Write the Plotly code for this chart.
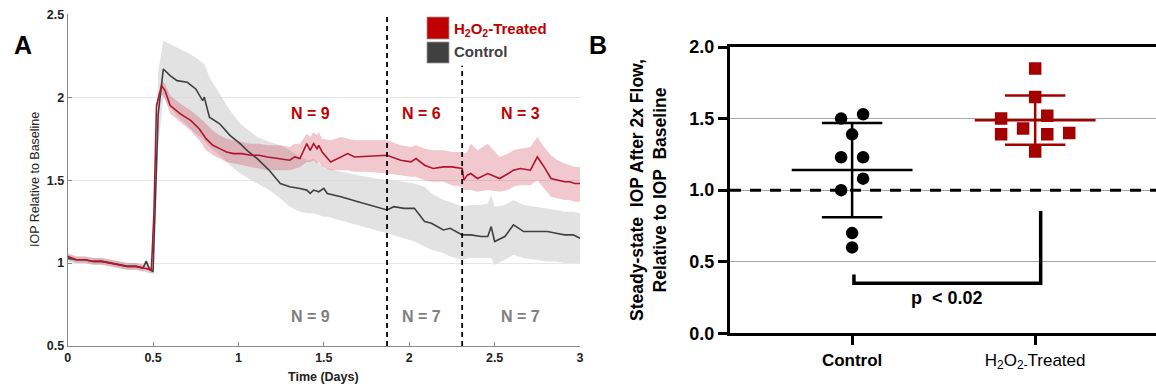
import numpy as np
import plotly.graph_objects as go

W, H = 1156, 391
FONT = "Liberation Sans, Arial, sans-serif"

# ---------------- Panel A data ----------------
ctrl_t = [0, 0.05, 0.1, 0.15, 0.2, 0.25, 0.3, 0.35, 0.4, 0.44, 0.46, 0.48, 0.50, 0.53, 0.56, 0.60, 0.64,
          0.70, 0.75, 0.79, 0.80, 0.83, 0.89, 0.95, 1.01, 1.06, 1.11, 1.18, 1.245, 1.30, 1.36, 1.40, 1.42,
          1.44, 1.47, 1.50, 1.52, 1.60, 1.70, 1.80, 1.87, 1.91, 1.97, 2.03, 2.09, 2.13, 2.20, 2.24, 2.31,
          2.36, 2.42, 2.46, 2.48, 2.50, 2.56, 2.61, 2.67, 2.74, 2.81, 2.86, 2.91, 2.96, 3.0]
ctrl_mean = [1.03, 1.02, 1.02, 1.01, 1.01, 1.00, 0.99, 0.98, 0.98, 0.97, 1.01, 0.96, 0.95, 1.90, 2.17, 2.13, 2.10,
             2.09, 2.05, 1.98, 2.00, 1.88, 1.84, 1.77, 1.72, 1.67, 1.63, 1.56, 1.48, 1.46, 1.45, 1.44, 1.42,
             1.44, 1.43, 1.45, 1.42, 1.40, 1.37, 1.34, 1.32, 1.34, 1.33, 1.33, 1.25, 1.24, 1.20, 1.21, 1.17,
             1.17, 1.16, 1.16, 1.22, 1.13, 1.16, 1.23, 1.19, 1.19, 1.19, 1.18, 1.17, 1.17, 1.15]
ctrl_hi = [1.05, 1.04, 1.04, 1.03, 1.03, 1.02, 1.01, 1.00, 1.00, 0.99, 1.03, 0.98, 0.97, 2.15, 2.34, 2.32, 2.30,
           2.27, 2.24, 2.21, 2.20, 2.12, 2.02, 1.92, 1.84, 1.80, 1.76, 1.73, 1.71, 1.68, 1.64, 1.62, 1.62,
           1.63, 1.60, 1.57, 1.57, 1.55, 1.53, 1.51, 1.50, 1.50, 1.49, 1.48, 1.46, 1.42, 1.38, 1.37, 1.34,
           1.35, 1.35, 1.36, 1.41, 1.34, 1.35, 1.38, 1.35, 1.34, 1.33, 1.32, 1.31, 1.31, 1.30]
ctrl_lo = [1.01, 1.00, 1.00, 0.99, 0.99, 0.98, 0.97, 0.96, 0.96, 0.95, 0.99, 0.94, 0.93, 1.70, 2.00, 1.94, 1.89,
           1.83, 1.78, 1.75, 1.74, 1.70, 1.65, 1.59, 1.54, 1.51, 1.48, 1.44, 1.39, 1.34, 1.31, 1.30, 1.30,
           1.30, 1.29, 1.28, 1.28, 1.26, 1.23, 1.20, 1.18, 1.17, 1.15, 1.13, 1.10, 1.08, 1.06, 1.04, 1.02,
           1.03, 1.03, 1.03, 1.03, 0.99, 1.02, 1.05, 1.03, 1.02, 1.01, 1.01, 1.00, 1.00, 1.00]

trt_t = [0, 0.05, 0.1, 0.15, 0.2, 0.25, 0.3, 0.35, 0.4, 0.44, 0.48, 0.49, 0.505, 0.52, 0.55, 0.57, 0.60,
         0.66, 0.72, 0.77, 0.81, 0.85, 0.89, 0.93, 0.97, 1.02, 1.07, 1.12, 1.17, 1.25, 1.30, 1.33, 1.36,
         1.40, 1.42, 1.44, 1.46, 1.47, 1.49, 1.54, 1.60, 1.64, 1.68, 1.75, 1.87, 1.95, 2.01, 2.04, 2.09,
         2.14, 2.20, 2.25, 2.31, 2.32, 2.34, 2.36, 2.40, 2.46, 2.53, 2.58, 2.61, 2.65, 2.71, 2.75, 2.79,
         2.83, 2.87, 2.91, 2.94, 2.97, 3.0]
trt_mean = [1.04, 1.02, 1.02, 1.01, 1.01, 1.00, 0.99, 0.98, 0.98, 0.97, 0.96, 0.96, 1.30, 1.95, 2.07, 2.04, 1.95,
            1.90, 1.86, 1.81, 1.75, 1.71, 1.69, 1.67, 1.66, 1.66, 1.65, 1.65, 1.64, 1.63, 1.62, 1.64, 1.63,
            1.72, 1.68, 1.72, 1.69, 1.71, 1.67, 1.61, 1.64, 1.66, 1.64, 1.645, 1.65, 1.62, 1.61, 1.63, 1.59,
            1.57, 1.58, 1.58, 1.57, 1.50, 1.53, 1.54, 1.51, 1.54, 1.51, 1.54, 1.56, 1.57, 1.56, 1.64, 1.58,
            1.51, 1.50, 1.49, 1.49, 1.48, 1.48]
trt_hi = [1.06, 1.04, 1.04, 1.03, 1.03, 1.02, 1.01, 1.00, 1.00, 0.99, 0.98, 0.98, 1.32, 1.98, 2.10, 2.08, 2.01,
          1.96, 1.92, 1.88, 1.84, 1.80, 1.77, 1.75, 1.74, 1.73, 1.72, 1.72, 1.71, 1.71, 1.70, 1.72, 1.72,
          1.78, 1.76, 1.79, 1.77, 1.79, 1.75, 1.74, 1.76, 1.75, 1.74, 1.74, 1.74, 1.71, 1.70, 1.71, 1.69,
          1.68, 1.68, 1.67, 1.67, 1.66, 1.67, 1.72, 1.68, 1.72, 1.64, 1.66, 1.68, 1.69, 1.70, 1.76, 1.70,
          1.65, 1.62, 1.60, 1.59, 1.58, 1.58]
trt_lo = [1.02, 1.00, 1.00, 0.99, 0.99, 0.98, 0.97, 0.96, 0.96, 0.95, 0.94, 0.94, 1.28, 1.92, 2.02, 1.99, 1.90,
          1.85, 1.80, 1.74, 1.68, 1.65, 1.63, 1.61, 1.60, 1.59, 1.58, 1.57, 1.56, 1.56, 1.56, 1.57, 1.58,
          1.61, 1.61, 1.62, 1.60, 1.61, 1.58, 1.56, 1.56, 1.56, 1.55, 1.55, 1.54, 1.53, 1.52, 1.52, 1.50,
          1.49, 1.49, 1.47, 1.46, 1.44, 1.44, 1.44, 1.43, 1.44, 1.43, 1.44, 1.46, 1.47, 1.47, 1.50, 1.45,
          1.40, 1.39, 1.38, 1.38, 1.37, 1.37]

split_times = [1.87, 2.31]
split_tops = [2.5, 2.19]
n_labels_trt = ["N = 9", "N = 6", "N = 3"]
n_labels_ctrl = ["N = 9", "N = 7", "N = 7"]
n_label_x = [1.42, 2.07, 2.65]

# ---------------- Panel B data ----------------
groups = ["Control", "H<sub>2</sub>O<sub>2-</sub>Treated"]
ctrl_vals = [1.53, 1.50, 1.39, 1.23, 1.23, 1.08, 1.00, 0.70, 0.60]
ctrl_off = [0.06, -0.06, 0.0, -0.06, 0.06, 0.06, -0.06, 0.0, 0.0]
trt_vals = [1.85, 1.65, 1.52, 1.50, 1.43, 1.40, 1.39, 1.39, 1.27]
trt_off = [0.0, 0.0, 0.066, -0.186, -0.066, 0.186, -0.186, 0.066, 0.0]
p_text = "p  < 0.02"
bracket_x = [0.01, 0.01, 1.03, 1.03]
bracket_y = [0.41, 0.35, 0.35, 0.855]

RED_LINE = "#B0142E"
RED_MARK = "#A50000"
GRAY_LINE = "#404040"

def pxx(x):
    return x / W

def pxy(y):
    return 1 - y / H

fig = go.Figure()

def band(t, hi, lo, color, xa="x", ya="y"):
    fig.add_trace(go.Scatter(x=list(t) + list(t)[::-1], y=list(hi) + list(lo)[::-1], fill="toself",
                             fillcolor=color, line=dict(width=0), mode="lines", hoverinfo="skip",
                             showlegend=False, xaxis=xa, yaxis=ya))

band(ctrl_t, ctrl_hi, ctrl_lo, "rgba(215,215,215,0.72)")
band(trt_t, trt_hi, trt_lo, "rgba(200,50,75,0.27)")
fig.add_trace(go.Scatter(x=ctrl_t, y=ctrl_mean, mode="lines", line=dict(color=GRAY_LINE, width=1.6),
                         showlegend=False))
fig.add_trace(go.Scatter(x=trt_t, y=trt_mean, mode="lines", line=dict(color=RED_LINE, width=1.6),
                         showlegend=False))
for xt, top in zip(split_times, split_tops):
    fig.add_trace(go.Scatter(x=[xt, xt], y=[0.5, top], mode="lines",
                             line=dict(color="black", width=1.8, dash="5px,4px"), showlegend=False))


def note(x, y, text, size, color, xref="paper", yref="paper", xanchor="center", angle=0):
    fig.add_annotation(x=x, y=y, xref=xref, yref=yref, text=text, showarrow=False, textangle=angle,
                       xanchor=xanchor, yanchor="middle", font=dict(size=size, color=color, family=FONT))


for lab, xv in zip(n_labels_trt, n_label_x):
    note(xv, 1.9, "<b>" + lab + "</b>", 16, "#C00000", "x", "y")
for lab, xv in zip(n_labels_ctrl, n_label_x):
    note(xv, 0.675, "<b>" + lab + "</b>", 16, "#808080", "x", "y")

# ---------------- Panel B traces ----------------
fig.add_trace(go.Scatter(x=[-0.667, 1.66], y=[1.0, 1.0], mode="lines", xaxis="x2", yaxis="y2",
                         line=dict(color="black", width=3, dash="11px,9px"), showlegend=False))

for gi, (vals, offs, col, sym) in enumerate([(ctrl_vals, ctrl_off, "black", "circle"),
                                             (trt_vals, trt_off, RED_MARK, "square")]):
    m = float(np.mean(vals))
    s = float(np.std(vals, ddof=1))
    fig.add_trace(go.Scatter(x=[gi + o for o in offs], y=vals, mode="markers", xaxis="x2", yaxis="y2",
                             marker=dict(symbol=sym, size=12.5, color=col, line=dict(width=0)),
                             showlegend=False))
    lc = "black" if gi == 0 else RED_MARK
    fig.add_trace(go.Scatter(x=[gi - 0.33, gi + 0.33], y=[m, m], mode="lines", xaxis="x2", yaxis="y2",
                             line=dict(color=lc, width=2.5), showlegend=False))
    for yy in (m - s, m + s):
        fig.add_trace(go.Scatter(x=[gi - 0.165, gi + 0.165], y=[yy, yy], mode="lines", xaxis="x2",
                                 yaxis="y2", line=dict(color=lc, width=2.5), showlegend=False))
    fig.add_trace(go.Scatter(x=[gi, gi], y=[m - s, m + s], mode="lines", xaxis="x2", yaxis="y2",
                             line=dict(color=lc, width=2.5), showlegend=False))

fig.add_trace(go.Scatter(x=bracket_x, y=bracket_y, mode="lines", xaxis="x2", yaxis="y2",
                         line=dict(color="black", width=3.5), showlegend=False))
note(0.52, 0.245, "<b>" + p_text + "</b>", 18, "black", "x2", "y2")

# ---------------- Legend (panel A) ----------------
fig.add_shape(type="rect", xref="paper", yref="paper", x0=pxx(427), x1=pxx(449), y0=pxy(39), y1=pxy(17),
              fillcolor="#C00000", line=dict(color="#999999", width=0.8))
fig.add_shape(type="rect", xref="paper", yref="paper", x0=pxx(427), x1=pxx(449), y0=pxy(63), y1=pxy(42),
              fillcolor="#404040", line=dict(color="#999999", width=0.8))
note(pxx(452), pxy(29), "<b>H<sub>2</sub>O<sub>2</sub>-Treated</b>", 15, "#C00000", xanchor="left")
note(pxx(452), pxy(51), "<b>Control</b>", 15, "#404040", xanchor="left")

# ---------------- Titles / labels ----------------
note(pxx(23), pxy(45), "<b>A</b>", 25, "black")
note(pxx(598), pxy(45), "<b>B</b>", 25, "black")
note(pxx(35), pxy(180), "IOP Relative to Baseline", 12.5, "#222222", angle=-90)
note(pxx(323), pxy(377), "<b>Time (Days)</b>", 12.5, "#222222")
note(pxx(649), pxy(190), "<b>Steady-state  IOP After 2x Flow,<br>Relative to IOP  Baseline</b>", 17.5,
     "black", angle=-90)

fig.update_layout(
    width=W, height=H, margin=dict(l=0, r=0, t=0, b=0, autoexpand=False),
    paper_bgcolor="white", plot_bgcolor="white", showlegend=False,
    font=dict(family=FONT),
    xaxis=dict(domain=[pxx(67.7), pxx(580)], range=[0, 3], tickvals=[0, 0.5, 1, 1.5, 2, 2.5, 3],
               ticktext=["0", "0.5", "1", "1.5", "2", "2.5", "3"], ticks="inside", ticklen=4,
               tickcolor="#888888", showline=True, linecolor="#888888", linewidth=1, showgrid=False,
               zeroline=False, automargin=False,
               tickfont=dict(size=12.5, color="#222222", family=FONT, weight="bold")),
    yaxis=dict(domain=[pxy(346), pxy(14.3)], range=[0.5, 2.5], tickvals=[0.5, 1, 1.5, 2, 2.5],
               ticktext=["0.5", "1", "1.5", "2", "2.5"], ticks="inside", ticklen=4, tickcolor="#888888",
               showline=True, linecolor="#888888", linewidth=1, showgrid=True, gridcolor="#E6E6E6",
               zeroline=False, automargin=False,
               tickfont=dict(size=12.5, color="#222222", family=FONT, weight="bold")),
    xaxis2=dict(domain=[pxx(730), 1.0], range=[-0.667, 1.66], anchor="y2", tickvals=[0, 1],
                ticktext=["<b>Control</b>", groups[1]], ticks="outside", ticklen=9, tickwidth=3,
                tickcolor="black", showline=True, linecolor="black", linewidth=3, mirror=True,
                showgrid=False, zeroline=False, automargin=False,
                tickfont=dict(size=17, color="black", family=FONT)),
    yaxis2=dict(domain=[pxy(333.3), pxy(47)], range=[0, 2], anchor="x2", tickvals=[0, 0.5, 1, 1.5, 2],
                ticktext=["0.0", "0.5", "1.0", "1.5", "2.0"], ticks="outside", ticklen=9, tickwidth=3,
                tickcolor="black", showline=True, linecolor="black", linewidth=3, showgrid=True,
                gridcolor="#A8A8A8", gridwidth=1, zeroline=False, automargin=False,
                tickfont=dict(size=18, color="black", family=FONT, weight="bold")),
)

fig.write_html("out.html", config={"displayModeBar": False},
               post_script="document.body.style.margin='0';document.body.style.padding='0';"
                           "document.body.style.overflow='hidden';")
